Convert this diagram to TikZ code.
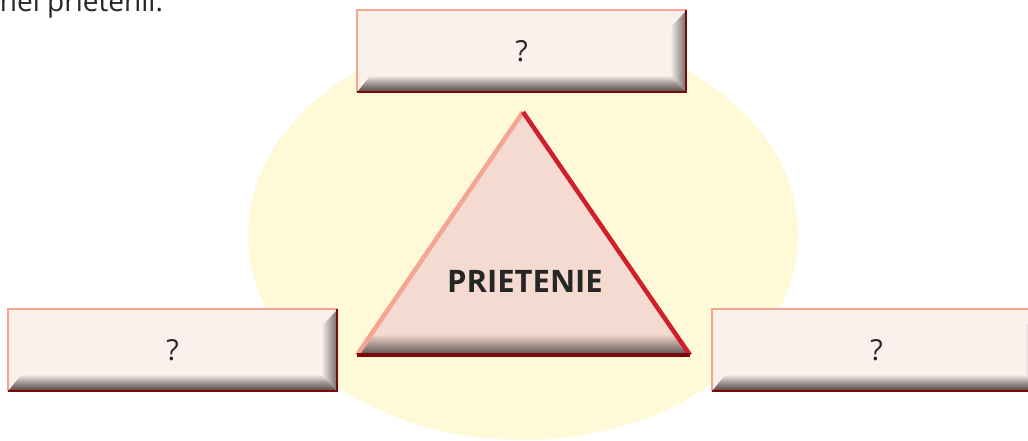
\documentclass[tikz,border=0pt]{standalone}
\usepackage{fontspec}
\setmainfont{Open Sans}
\usetikzlibrary{positioning}
\definecolor{ovalYellow}{HTML}{FEF9D6}
\definecolor{boxFill}{HTML}{FBF0EC}
\definecolor{triFill}{HTML}{F4DAD0}
\definecolor{edgeLight}{HTML}{F5A592}
\definecolor{edgeRed}{HTML}{D01F2A}
\definecolor{edgeDark}{HTML}{7A0A0A}
\definecolor{bevDark}{HTML}{5A4E4D}
\tikzstyle{qbox} = [rectangle, minimum width=329pt, minimum height=82pt, inner sep=0pt, fill=boxFill]
\tikzstyle{qmark} = [text=black!85, font=\fontsize{29}{34}\selectfont]
\tikzstyle{title} = [text=black!85, font=\fontsize{31}{36}\selectfont\bfseries]
\newcommand{\boxbevel}[1]{%
  \shade[top color=boxFill, bottom color=bevDark, middle color=bevDark!55!boxFill] ([xshift=1pt,yshift=1pt]#1.south west) -- ([xshift=-1pt,yshift=1pt]#1.south east) -- ([xshift=-16pt,yshift=17pt]#1.south east) -- ([xshift=14pt,yshift=17pt]#1.south west) -- cycle;
  \shade[left color=boxFill, right color=bevDark!80] ([xshift=-1pt,yshift=-2pt]#1.north east) -- ([xshift=-1pt,yshift=1pt]#1.south east) -- ([xshift=-16pt,yshift=17pt]#1.south east) -- ([xshift=-16pt,yshift=-18pt]#1.north east) -- cycle;
  \draw[edgeLight, line width=2.5pt] (#1.south west) -- (#1.north west) -- (#1.north east);
  \draw[edgeDark, line width=2.5pt] (#1.north east) -- (#1.south east) -- (#1.south west);
}
\begin{document}
\begin{tikzpicture}[x=1pt, y=-1pt]
  \useasboundingbox (0,0) rectangle (1028,441);
  \clip (0,0) rectangle (1028,441);
  \fill[ovalYellow] (523,235) ellipse [x radius=275, y radius=205];
  % question boxes
  \node (qTop) [qbox] at (521.5,51) {};
  \node (qLeft) [qbox] at (172.5,350) {};
  \node (qRight) [qbox] at (876.5,350) {};
  \boxbevel{qTop}
  \boxbevel{qLeft}
  \boxbevel{qRight}
  \node (qTopText) [qmark] at (qTop) {?};
  \node (qLeftText) [qmark] at (qLeft) {?};
  \node (qRightText) [qmark] at (qRight) {?};
  % triangle
  \coordinate (apex) at (523,112);
  \coordinate (baseL) at (357,355);
  \coordinate (baseR) at (690,355);
  \fill[triFill] (apex) -- (baseR) -- (baseL) -- cycle;
  \shade[top color=triFill, bottom color=bevDark, middle color=bevDark!50!triFill] (baseL) -- (baseR) -- ([xshift=-15pt,yshift=21pt]baseR) -- ([xshift=15pt,yshift=21pt]baseL) -- cycle;
  \draw[edgeLight, line width=4.5pt] (baseL) -- (apex);
  \draw[edgeRed, line width=4.5pt] (apex) -- (baseR);
  \draw[edgeDark, line width=4.5pt] (baseR) -- (baseL);
  \node (prietenie) [title] at (525,281) {PRIETENIE};
  % cut text at the top
  \node (intro) [anchor=base west, inner sep=0pt, text=black!85, font=\fontsize{28}{32}\selectfont] at (47,12) {\llap{unei }prietenii.};
\end{tikzpicture}
\end{document}
